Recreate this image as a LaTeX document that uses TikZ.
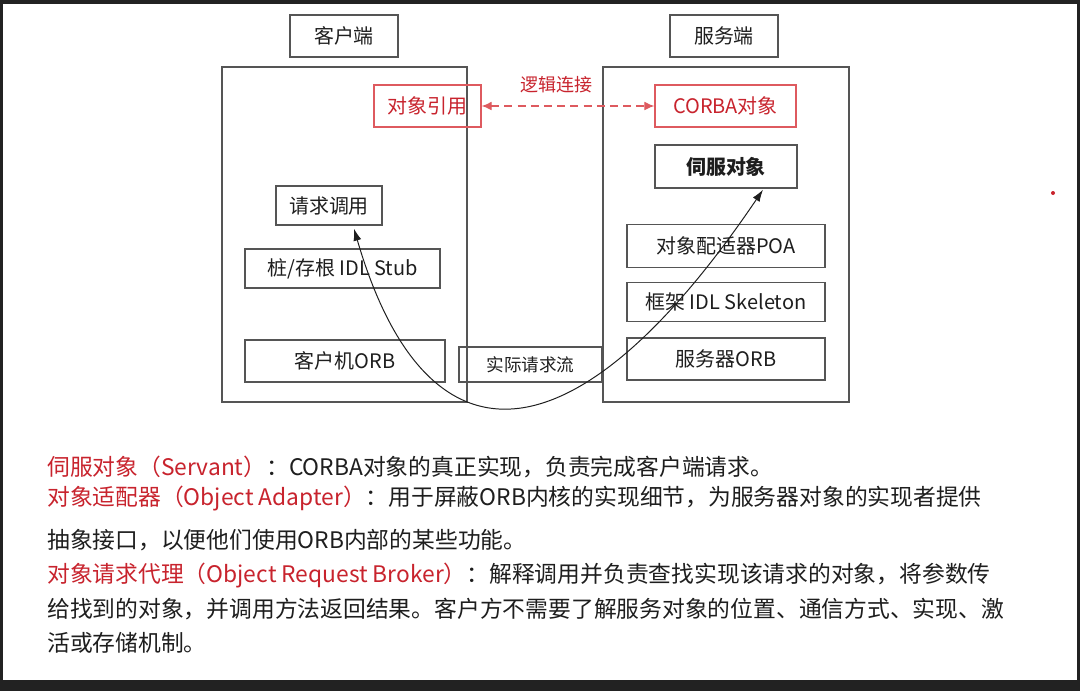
\documentclass[tikz,border=0pt]{standalone}
\usepackage{fontspec}
\newfontfamily\cjk{Noto Sans CJK SC}
\usepackage{tikz}
\usetikzlibrary{arrows.meta, positioning, calc}
\definecolor{myred}{RGB}{200,35,45}
\definecolor{myredline}{RGB}{222,90,95}
\definecolor{mygray}{RGB}{85,85,85}
\definecolor{mydark}{RGB}{30,30,30}
\definecolor{myframe}{RGB}{34,34,34}
\tikzset{
  box/.style={rectangle, draw=mygray, line width=1pt, inner sep=0pt,
    font=\cjk\fontsize{14.2}{16}\selectfont, text=mydark},
  redbox/.style={box, draw=myredline, text=myred},
  sidebox/.style={rectangle, draw=mygray, line width=1pt},
  desc/.style={anchor=west, inner sep=0pt, font=\cjk\fontsize{16.2}{19}\selectfont, text=mydark},
  redarrow/.style={{Latex[length=0.25cm,width=0.22cm]}-{Latex[length=0.25cm,width=0.22cm]},
    color=myredline, line width=0.8pt, dash pattern=on 0.2cm off 0.13cm},
  arrow/.style={{Latex[length=0.3cm,width=0.2cm]}-{Latex[length=0.3cm,width=0.2cm]},
    color=mydark, line width=0.7pt}
}
\begin{document}
\begin{tikzpicture}[x=0.025cm, y=-0.025cm]

  % Frame
  \fill[myframe] (0,0) rectangle (1080,691);
  \fill[white] (3,4) rectangle (1077,680);
  \useasboundingbox (0,0) rectangle (1080,691);

  % Nodes
  \node[box, minimum width=2.7cm, minimum height=1.05cm] (ctitle) at (344,36) {客户端};
  \node[box, minimum width=2.7cm, minimum height=1.05cm] (stitle) at (724,36) {服务端};
  \node[sidebox, minimum width=6.125cm, minimum height=8.375cm] (client) at (344.5,234.5) {};
  \node[sidebox, minimum width=6.15cm, minimum height=8.375cm] (server) at (726,234.5) {};

  \node[redbox, minimum width=2.675cm, minimum height=1.05cm] (oref) at (427.5,106) {对象引用};
  \node[redbox, minimum width=3.525cm, minimum height=1.05cm] (corba) at (725.5,106) {CORBA对象};
  \node[font=\cjk\fontsize{12.8}{14}\selectfont, text=myred] (logic) at (556,85) {逻辑连接};

  \node[box, font=\cjk\bfseries\fontsize{14.2}{16}\selectfont, minimum width=3.55cm, minimum height=1.075cm] (servant) at (726,166.5) {伺服对象};
  \node[box, minimum width=4.95cm, minimum height=1.075cm, below=0.87cm of servant] (poa) {对象配适器POA};
  \node[box, minimum width=4.95cm, minimum height=0.975cm, below=0.35cm of poa] (skel) {框架 IDL Skeleton};
  \node[box, minimum width=4.95cm, minimum height=1.05cm, below=0.375cm of skel] (sorb) {服务器ORB};

  \node[box, minimum width=2.65cm, minimum height=0.975cm] (req) at (329,205.5) {请求调用};
  \node[box, minimum width=4.875cm, minimum height=0.975cm] (stub) at (342.5,268.5) {桩/存根 IDL Stub};
  \node[box, minimum width=5.0cm, minimum height=1.05cm] (corb) at (345,361) {客户机ORB};
  \node[box, font=\cjk\fontsize{12.5}{14}\selectfont, minimum width=3.575cm, minimum height=0.875cm] (flow) at (530.5,364.5) {实际请求流};

  % Arrows
  \draw[redarrow] (oref) -- (corba);
  \draw[arrow] ($(req.south)+(25,3)$) .. controls (425,472) and (572,472) .. ($(servant.south)+(37,1)$);

  \fill[myred] (1053,193) circle (2);

  % Text
  \node[desc] (l1) at (47,467) {\textcolor{myred}{伺服对象（Servant）}：CORBA对象的真正实现，负责完成客户端请求。};
  \node[desc] (l2) at (47,499) {\textcolor{myred}{对象适配器（Object Adapter）}：用于屏蔽ORB内核的实现细节，为服务器对象的实现者提供};
  \node[desc] (l3) at (47,540) {抽象接口，以便他们使用ORB内部的某些功能。};
  \node[desc] (l4) at (47,575) {\textcolor{myred}{对象请求代理（Object Request Broker）}：解释调用并负责查找实现该请求的对象，将参数传};
  \node[desc] (l5) at (47,609) {给找到的对象，并调用方法返回结果。客户方不需要了解服务对象的位置、通信方式、实现、激};
  \node[desc] (l6) at (47,643) {活或存储机制。};

\end{tikzpicture}
\end{document}
